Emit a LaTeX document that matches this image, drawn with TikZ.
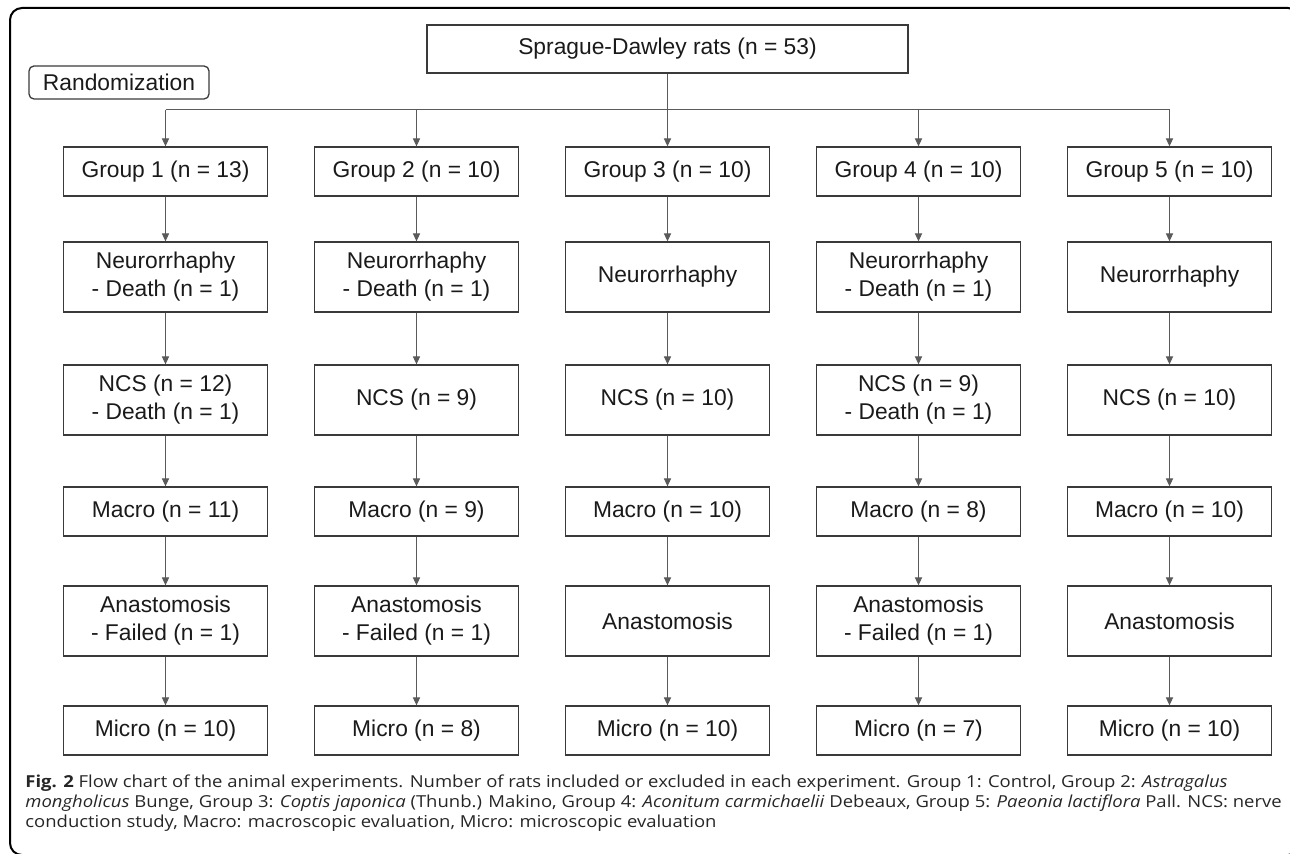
\documentclass[tikz,border=0pt]{standalone}
\usepackage{fontspec}
\setmainfont{Liberation Sans}
\newfontfamily\capfont[FakeStretch=1.12]{Open Sans}
\usetikzlibrary{arrows.meta}
\definecolor{boxc}{HTML}{3A3A3A}
\definecolor{arrc}{HTML}{5A5A5A}
\definecolor{txt}{HTML}{1A1A1A}
\definecolor{capc}{HTML}{262626}
\begin{document}
\begin{tikzpicture}[x=0.5pt,y=-0.5pt,
  box/.style={draw=boxc, line width=0.65pt, minimum width=102pt, align=center, inner sep=0pt, font=\fontsize{11.4}{14}\selectfont, text=txt},
  lowbox/.style={box, minimum height=24.5pt},
  highbox/.style={box, minimum height=35pt},
  conn/.style={draw=arrc, line width=0.5pt},
  arr/.style={conn, -{Triangle[length=4pt,width=3.6pt]}},
  capline/.style={anchor=west, inner sep=0pt, text=capc, font=\capfont\fontsize{8.25}{10}\selectfont}
]
\useasboundingbox (0,0) rectangle (1290,854);
\clip (0,0) rectangle (1290,854);
\draw[line width=1pt, rounded corners=6pt, black] (10,8) rectangle (1300,855);

\node[draw=boxc, line width=0.65pt, rounded corners=2.5pt, minimum width=90pt, minimum height=16.5pt, inner sep=0pt, font=\fontsize{11.4}{14}\selectfont, text=txt] (rand) at (119,82.5) {Randomization};
\node[box, minimum width=240.5pt, minimum height=24pt] (top) at (667.5,49) {Sprague-Dawley rats (n = 53)};

\coordinate (split) at (667.5,110);
\coordinate (h1) at (165.5,110);
\coordinate (h2) at (416.5,110);
\coordinate (h4) at (918.5,110);
\coordinate (h5) at (1169.5,110);

% column 1
\node[lowbox]  (g1) at (165.5,171.5) {Group 1 (n = 13)};
\node[highbox] (n1) at (165.5,277)   {Neurorrhaphy\\- Death (n = 1)};
\node[highbox] (c1) at (165.5,400)   {NCS (n = 12)\\- Death (n = 1)};
\node[lowbox]  (m1) at (165.5,511.5) {Macro (n = 11)};
\node[highbox] (a1) at (165.5,621)   {Anastomosis\\- Failed (n = 1)};
\node[lowbox]  (u1) at (165.5,730.5) {Micro (n = 10)};
% column 2
\node[lowbox]  (g2) at (416.5,171.5) {Group 2 (n = 10)};
\node[highbox] (n2) at (416.5,277)   {Neurorrhaphy\\- Death (n = 1)};
\node[highbox] (c2) at (416.5,400)   {NCS (n = 9)};
\node[lowbox]  (m2) at (416.5,511.5) {Macro (n = 9)};
\node[highbox] (a2) at (416.5,621)   {Anastomosis\\- Failed (n = 1)};
\node[lowbox]  (u2) at (416.5,730.5) {Micro (n = 8)};
% column 3
\node[lowbox]  (g3) at (667.5,171.5) {Group 3 (n = 10)};
\node[highbox] (n3) at (667.5,277)   {Neurorrhaphy};
\node[highbox] (c3) at (667.5,400)   {NCS (n = 10)};
\node[lowbox]  (m3) at (667.5,511.5) {Macro (n = 10)};
\node[highbox] (a3) at (667.5,621)   {Anastomosis};
\node[lowbox]  (u3) at (667.5,730.5) {Micro (n = 10)};
% column 4
\node[lowbox]  (g4) at (918.5,171.5) {Group 4 (n = 10)};
\node[highbox] (n4) at (918.5,277)   {Neurorrhaphy\\- Death (n = 1)};
\node[highbox] (c4) at (918.5,400)   {NCS (n = 9)\\- Death (n = 1)};
\node[lowbox]  (m4) at (918.5,511.5) {Macro (n = 8)};
\node[highbox] (a4) at (918.5,621)   {Anastomosis\\- Failed (n = 1)};
\node[lowbox]  (u4) at (918.5,730.5) {Micro (n = 7)};
% column 5
\node[lowbox]  (g5) at (1169.5,171.5) {Group 5 (n = 10)};
\node[highbox] (n5) at (1169.5,277)   {Neurorrhaphy};
\node[highbox] (c5) at (1169.5,400)   {NCS (n = 10)};
\node[lowbox]  (m5) at (1169.5,511.5) {Macro (n = 10)};
\node[highbox] (a5) at (1169.5,621)   {Anastomosis};
\node[lowbox]  (u5) at (1169.5,730.5) {Micro (n = 10)};

\draw[conn] (top.south) -- (split);
\draw[conn] (h1) -- (h5);
\draw[arr] (h1) -- (g1.north);
\draw[arr] (h2) -- (g2.north);
\draw[arr] (split) -- (g3.north);
\draw[arr] (h4) -- (g4.north);
\draw[arr] (h5) -- (g5.north);
\foreach \i in {1,...,5}{
  \draw[arr] (g\i.south) -- (n\i.north);
  \draw[arr] (n\i.south) -- (c\i.north);
  \draw[arr] (c\i.south) -- (m\i.north);
  \draw[arr] (m\i.south) -- (a\i.north);
  \draw[arr] (a\i.south) -- (u\i.north);
}

\node[capline] (cap1) at (25,783) {\textbf{Fig. 2} Flow chart of the animal experiments. Number of rats included or excluded in each experiment. Group 1: Control, Group 2: \textit{Astragalus}};
\node[capline] (cap2) at (25,803) {\textit{mongholicus} Bunge, Group 3: \textit{Coptis japonica} (Thunb.) Makino, Group 4: \textit{Aconitum carmichaelii} Debeaux, Group 5: \textit{Paeonia lactiflora} Pall. NCS: nerve};
\node[capline] (cap3) at (25,823) {conduction study, Macro: macroscopic evaluation, Micro: microscopic evaluation};
\end{tikzpicture}
\end{document}
